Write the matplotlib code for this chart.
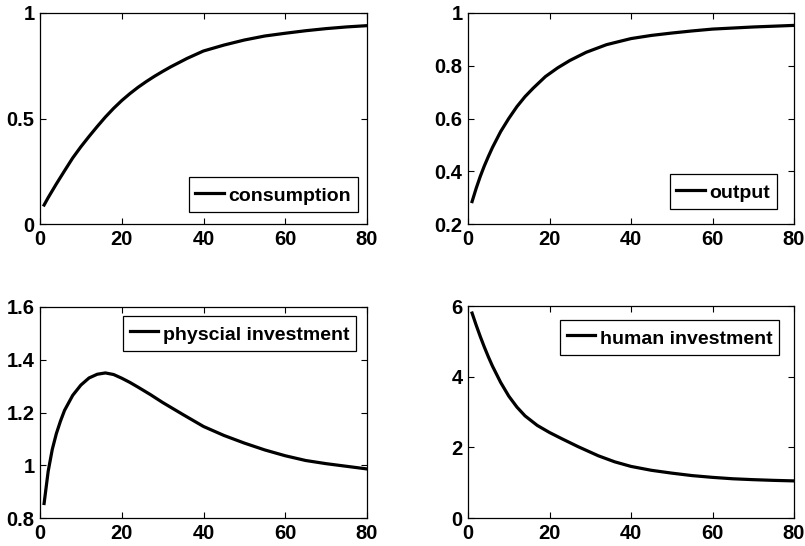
import matplotlib
matplotlib.use("Agg")
import matplotlib.pyplot as plt

plt.rcParams['font.family'] = ['Liberation Sans', 'DejaVu Sans']
plt.rcParams['font.weight'] = 'bold'

# values (period 1..80)
x_cons = [1, 2, 4, 6, 8, 10, 12, 14, 16, 18, 20, 22, 24, 26, 28, 30, 32, 36, 40,
          45, 50, 55, 60, 65, 70, 75, 80]
consumption = [0.09, 0.125, 0.19, 0.252, 0.313, 0.366, 0.415, 0.462, 0.507, 0.548,
               0.585, 0.618, 0.648, 0.675, 0.700, 0.723, 0.745, 0.785, 0.82,
               0.848, 0.872, 0.891, 0.904, 0.916, 0.926, 0.934, 0.940]

x_out = [1, 2, 3, 4, 5, 6, 8, 10, 12, 14, 16, 19, 22, 25, 29, 34, 40, 45, 50, 55,
         60, 65, 70, 75, 80]
output = [0.285, 0.335, 0.38, 0.42, 0.456, 0.49, 0.55, 0.60, 0.645, 0.683, 0.715,
          0.759, 0.792, 0.82, 0.851, 0.880, 0.903, 0.915, 0.924, 0.932, 0.939,
          0.943, 0.947, 0.950, 0.953]

x_phys = [1, 2, 3, 4, 5, 6, 8, 10, 12, 14, 16, 18, 20, 22, 24, 27, 30, 35, 40, 45,
          50, 55, 60, 65, 70, 75, 80]
phys_inv = [0.855, 0.977, 1.06, 1.12, 1.167, 1.208, 1.265, 1.304, 1.331, 1.345,
            1.350, 1.344, 1.330, 1.314, 1.296, 1.268, 1.238, 1.192, 1.147, 1.113,
            1.084, 1.058, 1.036, 1.018, 1.006, 0.996, 0.986]

x_hum = [1, 2, 3, 4, 5, 6, 8, 10, 12, 14, 17, 20, 23, 27, 32, 36, 40, 45, 50, 55,
         60, 65, 70, 75, 80]
human_inv = [5.80, 5.46, 5.14, 4.84, 4.56, 4.30, 3.84, 3.45, 3.14, 2.89, 2.62,
             2.42, 2.245, 2.02, 1.76, 1.59, 1.46, 1.35, 1.27, 1.20, 1.15, 1.11,
             1.085, 1.065, 1.05]

xticks = [0, 20, 40, 60, 80]
xlabels = ['0', '20', '40', '60', '80']

panels = [
    # x, y, label, yticks, ytick labels, ylim, axes rect, legend loc, legend anchor
    (x_cons, consumption, 'consumption', [0, 0.5, 1], ['0', '0.5', '1'], (0, 1),
     [40/805, 1-224/546, 327/805, 211/546], 'lower right', (0.972, 0.057)),
    (x_out, output, 'output', [0.2, 0.4, 0.6, 0.8, 1], ['0.2', '0.4', '0.6', '0.8', '1'], (0.2, 1),
     [468/805, 1-224/546, 326/805, 211/546], 'lower right', (0.948, 0.071)),
    (x_phys, phys_inv, 'physcial investment', [0.8, 1, 1.2, 1.4, 1.6], ['0.8', '1', '1.2', '1.4', '1.6'], (0.8, 1.6),
     [40/805, 1-518/546, 327/805, 211/546], 'upper right', (0.966, 0.957)),
    (x_hum, human_inv, 'human investment', [0, 2, 4, 6], ['0', '2', '4', '6'], (0, 6),
     [468/805, 1-518/546, 326/805, 212/546], 'upper right', (0.954, 0.934)),
]

fig = plt.figure(figsize=(8.05, 5.46), dpi=100)

for xs, ys, lab, yt, ytl, yl, rect, loc, anchor in panels:
    ax = fig.add_axes(rect)
    ax.plot(xs, ys, color='black', linewidth=2.3, label=lab)
    ax.set_xlim(0, 80)
    ax.set_ylim(*yl)
    ax.set_xticks(xticks)
    ax.set_xticklabels(xlabels)
    ax.set_yticks(yt)
    ax.set_yticklabels(ytl)
    ax.tick_params(direction='in', top=True, right=True, length=4, width=0.8,
                   labelsize=14.5, pad=4)
    for s in ax.spines.values():
        s.set_linewidth(0.9)
    leg = ax.legend(loc=loc, bbox_to_anchor=anchor, borderaxespad=0,
                    fancybox=False, framealpha=1, edgecolor='black',
                    fontsize=14, handlelength=1.45, handletextpad=0.25,
                    handleheight=1.3, borderpad=0.35)
    leg.get_frame().set_linewidth(0.9)

fig.savefig('out.png', dpi=100)
